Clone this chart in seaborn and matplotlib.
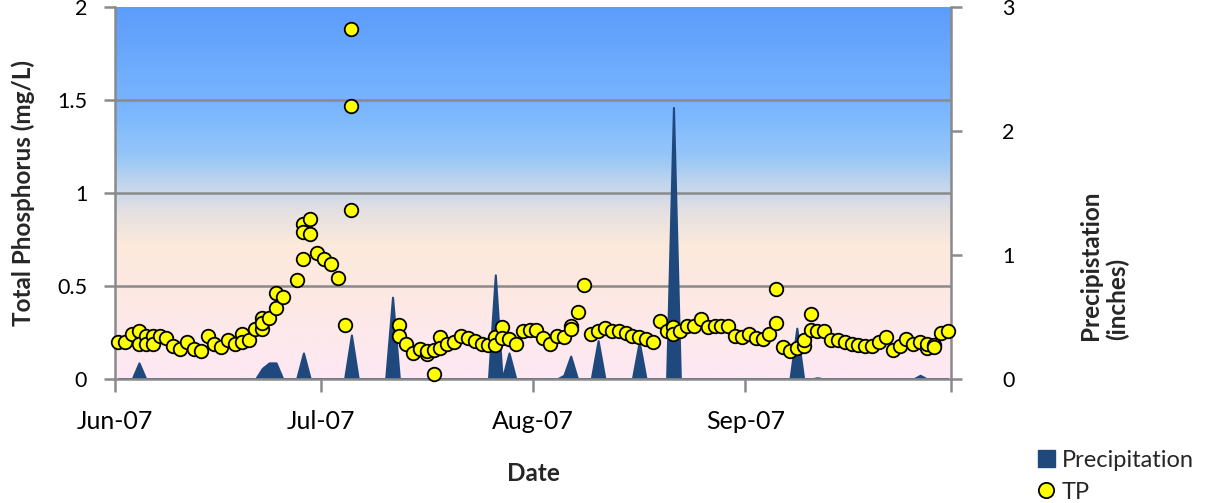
import numpy as np
import pandas as pd
import matplotlib
matplotlib.use("Agg")
import matplotlib.pyplot as plt
import matplotlib.dates as mdates
from matplotlib.colors import LinearSegmentedColormap
from matplotlib.lines import Line2D
from matplotlib.patches import Patch
import seaborn as sns

# ---- data -------------------------------------------------------------
start_date = "2007-06-01"

# Total phosphorus samples: day offset from start_date, value in mg/L
tp_day = [0, 1, 2, 3, 3, 4, 4, 5, 5, 6, 7, 8, 9, 10, 11, 12, 13, 14, 15, 16,
          17, 18, 18, 19, 20, 21, 21, 21, 22, 23, 23, 24, 26, 27, 27, 27, 28, 28,
          29, 30, 31, 32, 33, 34, 34, 34,
          41, 41, 42, 43, 44, 45, 45, 46, 46, 47, 47, 48, 49, 50, 51, 52, 53, 54,
          55, 55, 56, 56, 57, 58, 59, 60, 61, 62, 63, 64, 65, 66, 66, 67, 68,
          69, 70, 71, 72, 73, 74, 75, 76, 77, 78, 79, 80, 81, 81, 82, 83, 84, 85,
          86, 87, 88, 89, 90, 91, 92, 93, 94, 95, 96, 96, 97, 98, 99, 100, 100,
          101, 101, 102, 103, 104, 105, 106, 107, 108, 109, 110, 111, 112, 113,
          114, 115, 116, 117, 118, 118, 119, 119, 120, 121]
tp_value = [0.20, 0.20, 0.24, 0.26, 0.19, 0.23, 0.19, 0.23, 0.19, 0.23, 0.22,
            0.18, 0.16, 0.20, 0.16, 0.15, 0.23, 0.19, 0.17, 0.21, 0.19, 0.24,
            0.20, 0.21, 0.27, 0.33, 0.27, 0.30, 0.33, 0.38, 0.46, 0.44, 0.53,
            0.645, 0.835, 0.79, 0.86, 0.78, 0.68, 0.645, 0.62, 0.545, 0.29,
            1.88, 1.47, 0.91,
            0.29, 0.23, 0.19, 0.14, 0.16, 0.135, 0.15, 0.025, 0.157, 0.226,
            0.166, 0.19, 0.197, 0.23, 0.22, 0.206, 0.19, 0.184, 0.224, 0.184,
            0.28, 0.22, 0.215, 0.19, 0.256, 0.265, 0.265, 0.22, 0.19, 0.23,
            0.226, 0.287, 0.27, 0.36, 0.506,
            0.24, 0.26, 0.275, 0.26, 0.26, 0.25, 0.233, 0.226, 0.215, 0.20,
            0.31, 0.26, 0.28, 0.24, 0.256, 0.287, 0.287, 0.32, 0.28, 0.287,
            0.287, 0.287, 0.233, 0.226, 0.24, 0.22, 0.215, 0.24, 0.30, 0.486,
            0.17, 0.148, 0.166, 0.18, 0.21, 0.347, 0.265, 0.256, 0.256, 0.21,
            0.21, 0.197, 0.188, 0.184, 0.18, 0.175, 0.20, 0.226, 0.157, 0.18,
            0.215, 0.19, 0.20, 0.166, 0.19, 0.184, 0.17, 0.248, 0.26]

# Daily precipitation (inches) on days with rain; all other days are dry
precip_day = [3, 21, 22, 23, 27, 34, 40, 55, 57, 65, 66, 70, 76, 81, 99, 102, 117]
precip_in = [0.13, 0.086, 0.13, 0.13, 0.21, 0.355, 0.66, 0.84, 0.21, 0.03,
             0.185, 0.31, 0.30, 2.19, 0.41, 0.01, 0.03]
n_days = 122

left_ticks = [0, 0.5, 1, 1.5, 2]
right_ticks = [0, 1, 2, 3]
month_ticks = ["2007-06-01", "2007-07-01", "2007-08-01", "2007-09-01"]

# ---- frames -----------------------------------------------------------
t0 = pd.Timestamp(start_date)
noon = pd.Timedelta(hours=12)
tp = pd.DataFrame({
    "date": t0 + pd.to_timedelta(tp_day, unit="D") + noon,
    "TP": tp_value,
})
rain = pd.Series(0.0, index=range(n_days))
rain.loc[precip_day] = precip_in
precip = pd.DataFrame({
    "date": t0 + pd.to_timedelta(rain.index, unit="D") + noon,
    "Precipitation": rain.values,
})

# ---- style ------------------------------------------------------------
sns.set_theme(style="white")
plt.rcParams["font.family"] = ["Lato", "DejaVu Sans"]
grid_grey = "#8a8a8a"
navy = "#1f497d"

fig = plt.figure(figsize=(12.11, 5.03), dpi=100)
W, H = 1211, 503
ax_l, ax_r, ax_b, ax_t = 115 / W, 951 / W, 1 - 379 / H, 1 - 7 / H
rect = [ax_l, ax_b, ax_r - ax_l, ax_t - ax_b]
ax2 = fig.add_axes(rect)               # precipitation (right axis), drawn underneath
ax = fig.add_axes(rect, sharex=ax2)    # total phosphorus (left axis), on top
ax.patch.set_visible(False)

# Sky-like vertical gradient for the plot area
stops = [
    (0.00, (253, 233, 244)),
    (0.22, (253, 232, 228)),
    (0.36, (252, 234, 219)),
    (0.45, (228, 224, 226)),
    (0.52, (196, 214, 236)),
    (0.60, (150, 198, 248)),
    (0.72, (122, 183, 255)),
    (0.86, (108, 170, 254)),
    (1.00, (92, 156, 252)),
]
cmap = LinearSegmentedColormap.from_list(
    "sky", [(p, tuple(c / 255 for c in rgb)) for p, rgb in stops])
grad = np.linspace(0, 1, 512).reshape(-1, 1)
ax2.imshow(grad, cmap=cmap, origin="lower", aspect="auto",
           extent=[0, 1, 0, 1], transform=ax2.transAxes, zorder=0)

x0 = mdates.date2num(t0)
x1 = mdates.date2num(t0 + pd.Timedelta(days=n_days))
ax2.set_xlim(x0, x1)
ax2.set_ylim(0, 3)
ax.set_ylim(0, 2)

# horizontal gridlines at the left-axis ticks
scale = 3 / 2
for v in left_ticks[1:-1]:
    ax2.axhline(v * scale, color=grid_grey, lw=1.8, zorder=1)

# precipitation area
ax2.fill_between(precip["date"], precip["Precipitation"], 0,
                 color=navy, lw=1.5, edgecolor=navy, zorder=2)

# TP scatter
sns.scatterplot(data=tp, x="date", y="TP", ax=ax, s=95, color="#ffff00",
                edgecolor="black", linewidth=1.3, zorder=5, clip_on=False,
                legend=False)

# ---- axes cosmetics ---------------------------------------------------
for a in (ax, ax2):
    for s in a.spines.values():
        s.set_visible(False)
for k in ("left", "bottom", "right"):
    ax.spines[k].set_visible(True)
    ax.spines[k].set_color(grid_grey)
    ax.spines[k].set_linewidth(1.8)

ax.set_yticks(left_ticks)
ax.set_yticklabels(["0", "0.5", "1", "1.5", "2"])
ax.tick_params(axis="y", which="both", left=True, right=False, direction="out",
               length=8, width=1.8, color=grid_grey, labelsize=15.5, pad=12,
               labelcolor="black")

ax2.yaxis.tick_right()
ax2.set_yticks(right_ticks)
ax2.tick_params(axis="y", which="both", left=False, right=True,
                labelleft=False, labelright=True, direction="out",
                length=8, width=1.8, color=grid_grey, labelsize=15.5, pad=29,
                labelcolor="black")

ticks = mdates.date2num(pd.to_datetime(month_ticks + ["2007-10-01"]))
ax.set_xticks(ticks)
ax.set_xticklabels([pd.Timestamp(d).strftime("%b-%y") for d in month_ticks] + [""])
ax.tick_params(axis="x", which="both", bottom=True, direction="out", length=9,
               width=1.8, color=grid_grey, labelsize=18, pad=13, labelcolor="black")
ax2.tick_params(axis="x", bottom=False, labelbottom=False)
ax.set_xlim(x0, x1)

ax.set_xlabel("Date", fontsize=17.5, fontweight="bold", labelpad=21)
ax.set_ylabel("Total Phosphorus (mg/L)", fontsize=17.5, fontweight="bold")
ax.yaxis.set_label_coords((35 / W - ax_l) / (ax_r - ax_l), 0.5)
ax2.set_ylabel("")

fig.text(1104 / W, 1 - 340 / H, "Precipistation\n(inches)", rotation=90,
         ha="center", va="bottom", multialignment="left",
         fontsize=17.5, fontweight="bold", linespacing=1.15)

handles = [
    Patch(facecolor=navy, edgecolor=navy),
    Line2D([], [], marker="o", ls="", markersize=11, markerfacecolor="#ffff00",
           markeredgecolor="black", markeredgewidth=1.3),
]
fig.legend(handles, ["Precipitation", "TP"], loc="upper left",
           bbox_to_anchor=(1038 / W, 1 - 450 / H), frameon=False, fontsize=17,
           handlelength=0.7, handleheight=0.7, handletextpad=0.3,
           labelspacing=0.45, borderaxespad=0, borderpad=0)

fig.savefig("out.png", dpi=100)
